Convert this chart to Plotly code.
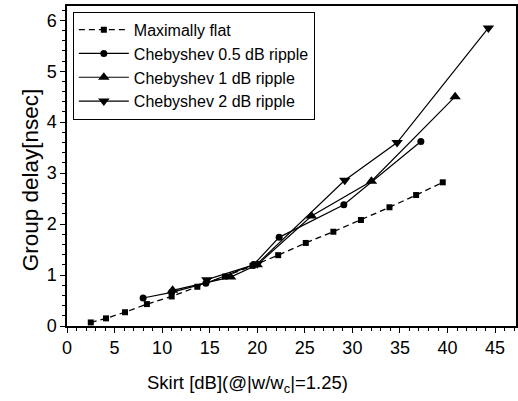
import plotly.graph_objects as go

mf_x = [2.5, 4.1, 6.1, 8.4, 11.0, 13.7, 16.6, 19.5, 22.2, 25.1, 28.0, 30.9, 33.9, 36.7, 39.5]
mf_y = [0.07, 0.15, 0.27, 0.43, 0.58, 0.77, 0.97, 1.18, 1.39, 1.63, 1.85, 2.08, 2.33, 2.57, 2.82]

c05_x = [8.0, 11.0, 14.6, 19.6, 22.3, 29.1, 37.2]
c05_y = [0.55, 0.66, 0.84, 1.2, 1.74, 2.38, 3.62]

c1_x = [11.1, 17.2, 20.0, 25.7, 32.0, 40.8]
c1_y = [0.7, 0.96, 1.2, 2.16, 2.84, 4.5]

c2_x = [14.7, 20.0, 29.2, 34.7, 44.3]
c2_y = [0.91, 1.22, 2.86, 3.6, 5.85]

names = ["Maximally flat", "Chebyshev 0.5 dB ripple", "Chebyshev 1 dB ripple", "Chebyshev 2 dB ripple"]
x_title = "Skirt [dB](@|w/w<sub>c</sub>|=1.25)"
y_title = "Group delay[nsec]"

FONT = "Liberation Sans, Arial"

fig = go.Figure()
fig.add_trace(go.Scatter(x=mf_x, y=mf_y, name=names[0], mode="lines+markers",
                         line=dict(color="black", width=1.3, dash="6px,4px"),
                         marker=dict(symbol="square", size=6, color="black")))
fig.add_trace(go.Scatter(x=c05_x, y=c05_y, name=names[1], mode="lines+markers",
                         line=dict(color="black", width=1.2),
                         marker=dict(symbol="circle", size=7, color="black")))
fig.add_trace(go.Scatter(x=c1_x, y=c1_y, name=names[2], mode="lines+markers",
                         line=dict(color="black", width=1.2),
                         marker=dict(symbol="triangle-up", size=10, color="black")))
fig.add_trace(go.Scatter(x=c2_x, y=c2_y, name=names[3], mode="lines+markers",
                         line=dict(color="black", width=1.2),
                         marker=dict(symbol="triangle-down", size=10, color="black")))

axis_common = dict(showline=True, linecolor="black", linewidth=1.5, mirror=True,
                   ticks="outside", ticklen=5, tickwidth=1.2, tickcolor="black",
                   showgrid=False, zeroline=False,
                   tickfont=dict(family=FONT, size=18, color="black"),
                   minor=dict(ticks="outside", ticklen=3, tickcolor="black", tickwidth=1))

fig.update_xaxes(range=[0, 47.2], dtick=5, **axis_common)
fig.update_yaxes(range=[0, 6.28], dtick=1, **axis_common)

fig.add_annotation(text=x_title, xref="paper", yref="paper", x=0.401, y=-0.181,
                   xanchor="center", yanchor="middle", showarrow=False,
                   font=dict(family=FONT, size=18.5, color="black"))
fig.add_annotation(text=y_title, xref="paper", yref="paper", x=-0.082, y=0.456,
                   xanchor="center", yanchor="middle", showarrow=False, textangle=-90,
                   font=dict(family=FONT, size=22.5, color="black"))

fig.update_layout(
    width=518, height=401,
    margin=dict(l=67, r=0, t=6, b=75),
    plot_bgcolor="white", paper_bgcolor="white",
    showlegend=True,
    legend=dict(x=0.013, y=0.982, xanchor="left", yanchor="top",
                bordercolor="black", borderwidth=1, bgcolor="white",
                font=dict(family=FONT, size=16, color="black"),
                tracegroupgap=0, itemsizing="trace", itemwidth=50),
)

fig.write_html("out.html")
